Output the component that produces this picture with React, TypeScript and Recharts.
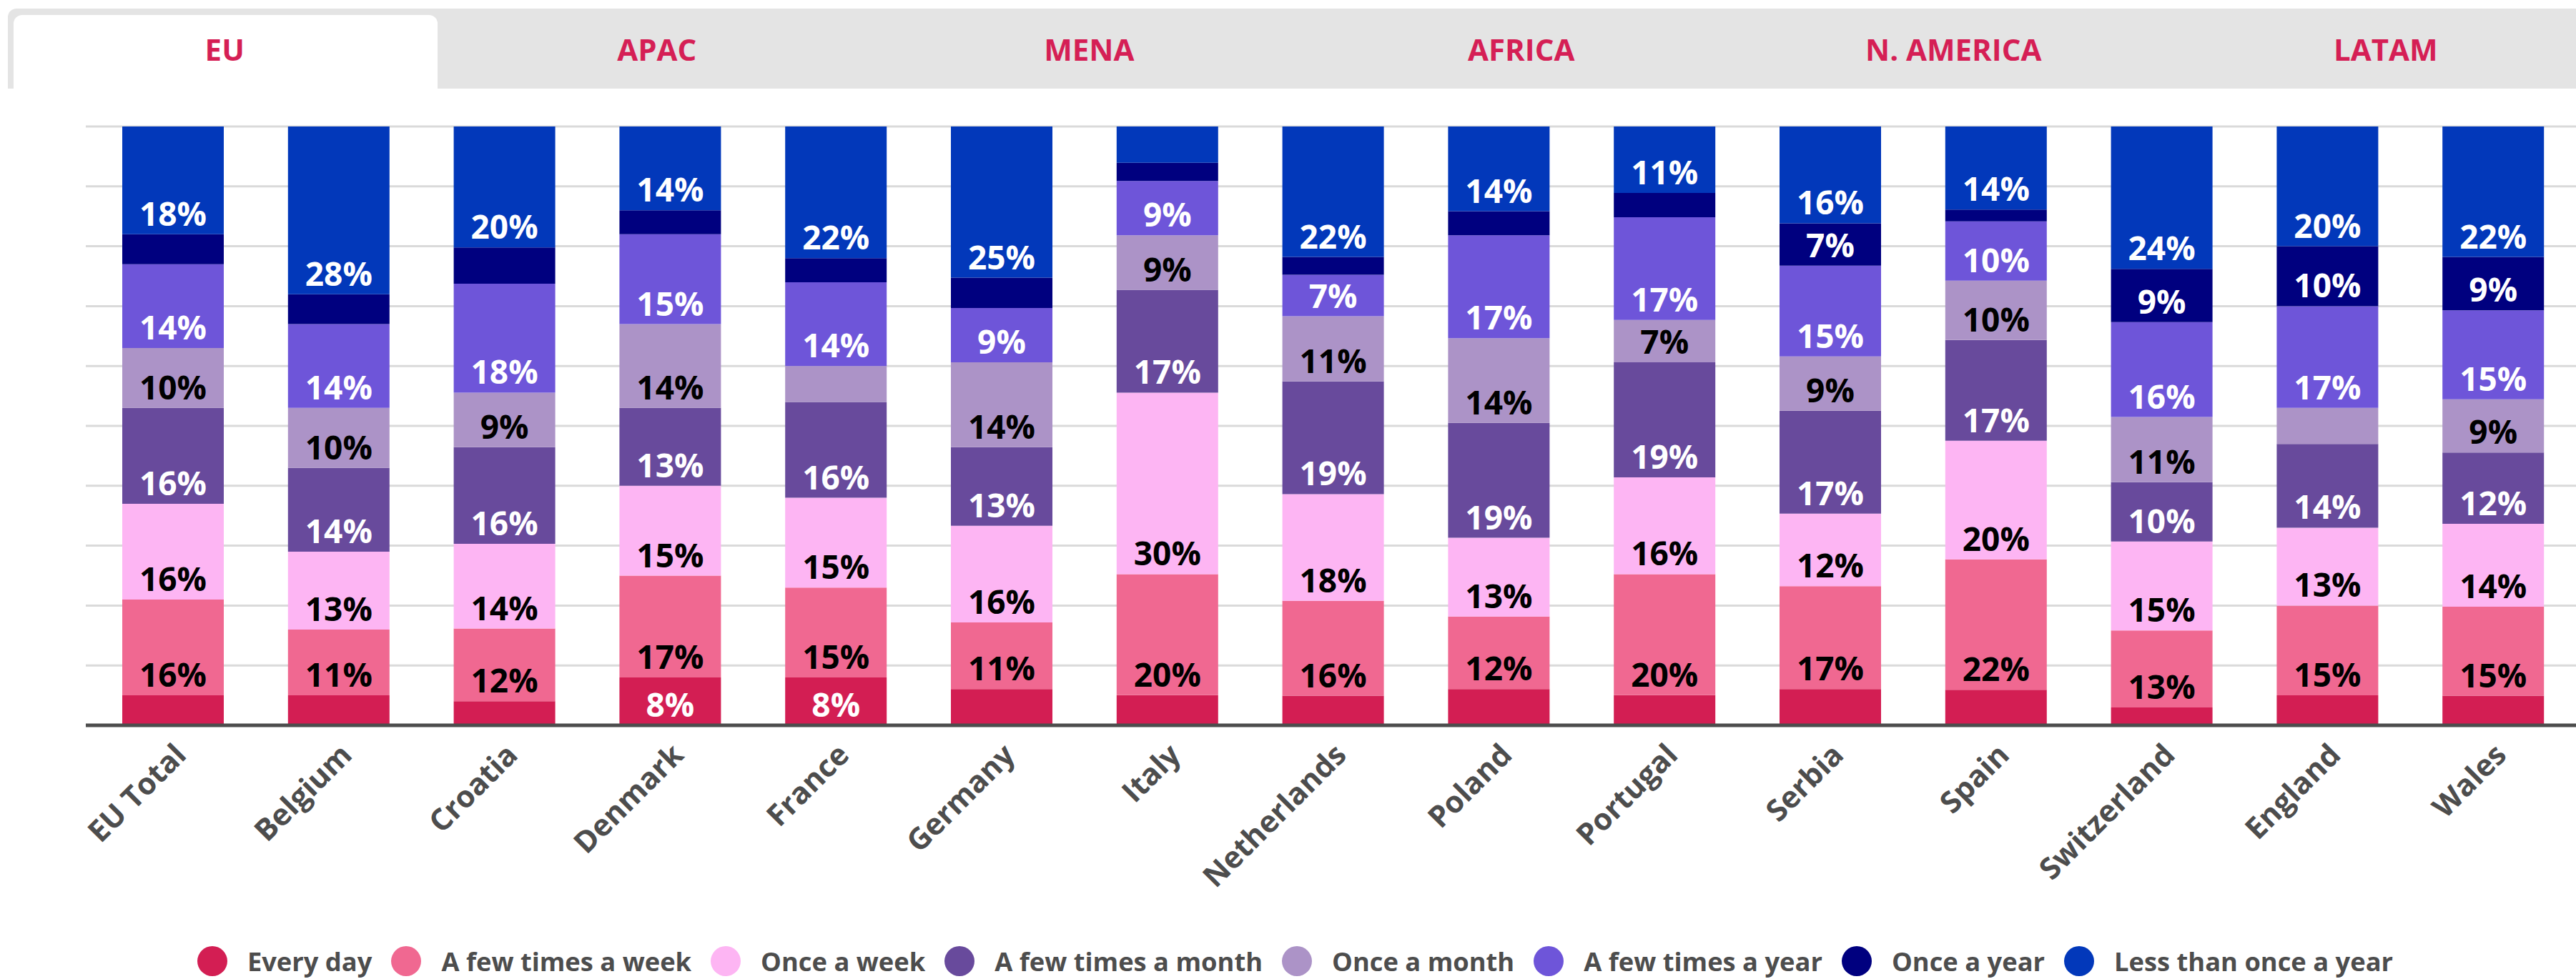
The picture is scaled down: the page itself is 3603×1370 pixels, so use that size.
import React from 'react';
import { BarChart, Bar, XAxis, YAxis, CartesianGrid, Legend, LabelList } from 'recharts';

// categories and stacked shares (%), bottom segment first
const countries = ['EU Total', 'Belgium', 'Croatia', 'Denmark', 'France', 'Germany', 'Italy', 'Netherlands', 'Poland', 'Portugal', 'Serbia', 'Spain', 'Switzerland', 'England', 'Wales'];

const everyDay = [5, 5, 4, 8, 8, 6, 5, 5, 6, 5, 6, 6, 3, 5, 5];
const fewTimesWeek = [16, 11, 12, 17, 15, 11, 20, 16, 12, 20, 17, 22, 13, 15, 15];
const onceWeek = [16, 13, 14, 15, 15, 16, 30, 18, 13, 16, 12, 20, 15, 13, 14];
const fewTimesMonth = [16, 14, 16, 13, 16, 13, 17, 19, 19, 19, 17, 17, 10, 14, 12];
const onceMonth = [10, 10, 9, 14, 6, 14, 9, 11, 14, 7, 9, 10, 11, 6, 9];
const fewTimesYear = [14, 14, 18, 15, 14, 9, 9, 7, 17, 17, 15, 10, 16, 17, 15];
const onceYear = [5, 5, 6, 4, 4, 5, 3, 3, 4, 4, 7, 2, 9, 10, 9];
const lessThanOnceYear = [18, 28, 20, 14, 22, 25, 6, 22, 14, 11, 16, 14, 24, 20, 22];

const seriesNames = ['Every day', 'A few times a week', 'Once a week', 'A few times a month', 'Once a month', 'A few times a year', 'Once a year', 'Less than once a year'];
const seriesValues = [everyDay, fewTimesWeek, onceWeek, fewTimesMonth, onceMonth, fewTimesYear, onceYear, lessThanOnceYear];

const regions = ['EU', 'APAC', 'MENA', 'AFRICA', 'N. AMERICA', 'LATAM'];

const colors = ['#D31E53', '#F06891', '#FDB5F3', '#684A9C', '#AC93C7', '#6E55D9', '#00007F', '#0238BA'];
const labelColors = ['#fff', '#000', '#000', '#fff', '#000', '#fff', '#fff', '#fff'];

const FONT = "'Open Sans', sans-serif";

const data = countries.map((country, i) => {
  const row: Record<string, any> = { country };
  seriesValues.forEach((vals, s) => {
    row['s' + s] = vals[i];
  });
  return row;
});

const CountryTick = (props: any) => {
  const { x, y, payload } = props;
  return (
    <g transform={`translate(${x + 21},${y + 44})`}>
      <text
        textAnchor="end"
        transform="rotate(-45)"
        fill="#4d4d4d"
        fontSize={42}
        fontWeight={700}
        fontFamily={FONT}
      >
        {payload.value}
      </text>
    </g>
  );
};

const makeLabel = (color: string) => (props: any) => {
  const vb = props.viewBox || props;
  const x = vb.x ?? props.x;
  const y = vb.y ?? props.y;
  const width = vb.width ?? props.width;
  const height = vb.height ?? props.height;
  const value = props.value;
  if (value == null || value < 7) return null;
  return (
    <text
      x={x + width / 2}
      y={y + height - 12}
      textAnchor="middle"
      fill={color}
      fontSize={46}
      fontWeight={700}
      fontFamily={FONT}
    >
      {value}%
    </text>
  );
};

const renderLegend = () => (
  <div style={{ display: 'flex', justifyContent: 'center', alignItems: 'center', height: 42, paddingLeft: 20, fontFamily: FONT }}>
    {seriesNames.map((name, i) => (
      <div key={name} style={{ display: 'flex', alignItems: 'center', marginRight: i < seriesNames.length - 1 ? 27 : 0 }}>
        <svg width={42} height={42} style={{ display: 'block' }}>
          <circle cx={21} cy={21} r={21} fill={colors[i]} />
        </svg>
        <span style={{ marginLeft: 28, fontSize: 36.3, fontWeight: 700, color: '#4d4d4d', lineHeight: '42px', whiteSpace: 'nowrap' }}>
          {name}
        </span>
      </div>
    ))}
  </div>
);

export default function App() {
  return (
    <div style={{ position: 'absolute', left: 0, top: 0, width: 3603, height: 1370, background: '#fff', overflow: 'hidden' }}>
      <div style={{ position: 'absolute', left: 0, top: 0 }}>
        <BarChart
          width={3603}
          height={1370}
          data={data}
          stackOffset="expand"
          margin={{ top: 177, right: 0, bottom: 4, left: 120 }}
        >
          <CartesianGrid vertical={false} stroke="#dadada" strokeWidth={3} />
          <YAxis hide domain={[0, 1]} ticks={[0, 0.1, 0.2, 0.3, 0.4, 0.5, 0.6, 0.7, 0.8, 0.9, 1]} />
          {seriesNames.map((name, s) => (
            <Bar
              key={name}
              dataKey={'s' + s}
              name={name}
              stackId="a"
              fill={colors[s]}
              barSize={142}
              isAnimationActive={false}
            >
              <LabelList dataKey={'s' + s} content={makeLabel(labelColors[s])} />
            </Bar>
          ))}
          <XAxis
            dataKey="country"
            interval={0}
            height={309}
            tickSize={0}
            tickMargin={0}
            tickLine={false}
            padding={{ left: 6, right: 0 }}
            axisLine={{ stroke: '#4d4d4d', strokeWidth: 5 }}
            tick={<CountryTick />}
          />
          <Legend
            verticalAlign="bottom"
            content={renderLegend}
            wrapperStyle={{ left: 0, width: 3603, bottom: 4 }}
          />
        </BarChart>
      </div>

      {/* region tabs */}
      <div style={{ position: 'absolute', left: 11, top: 12, width: 3592, height: 112, background: '#e4e4e4', borderTopLeftRadius: 12 }} />
      <div style={{ position: 'absolute', left: 19, top: 21, width: 593, height: 103, background: '#fff', borderTopLeftRadius: 12, borderTopRightRadius: 12 }} />
      <div style={{ position: 'absolute', left: 12, top: 12, height: 112, display: 'flex' }}>
        {regions.map((r) => (
          <div
            key={r}
            style={{
              width: 604.5,
              height: 112,
              display: 'flex',
              alignItems: 'center',
              justifyContent: 'center',
              color: '#D51F55',
              fontFamily: FONT,
              fontWeight: 700,
              fontSize: 42,
            }}
          >
            {r}
          </div>
        ))}
      </div>
    </div>
  );
}
